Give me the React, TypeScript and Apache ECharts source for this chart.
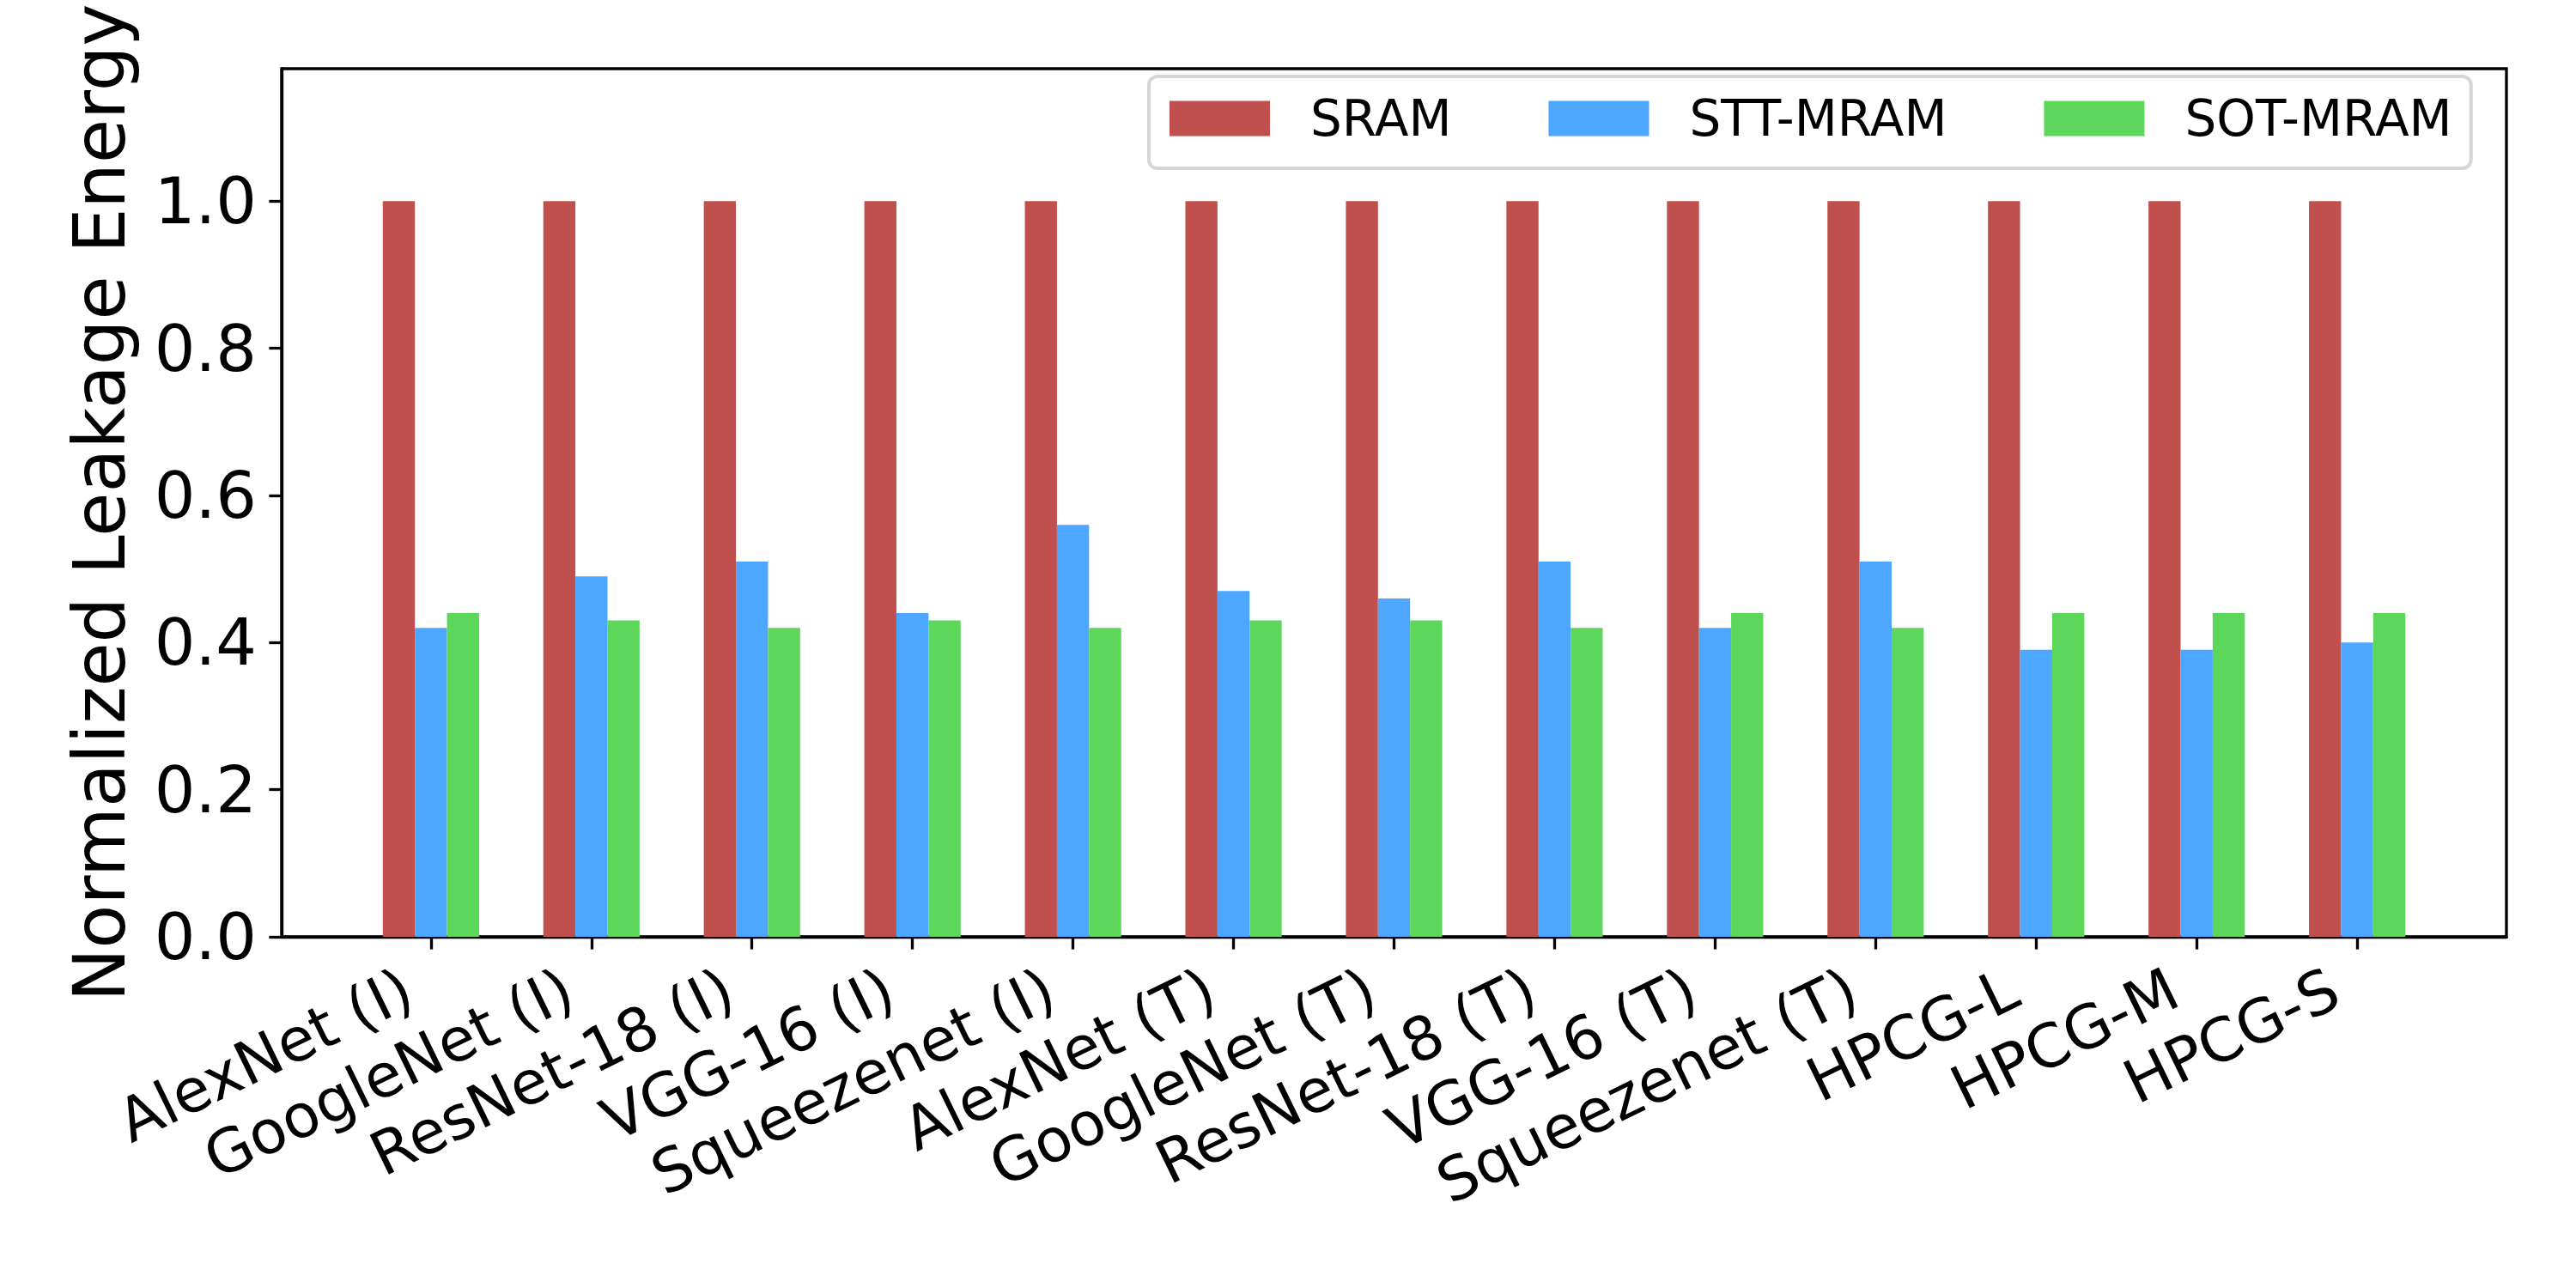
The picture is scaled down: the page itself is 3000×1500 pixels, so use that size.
import React, { useEffect, useRef } from 'react';
import * as echarts from 'echarts';

const categories = [
  'AlexNet (I)',
  'GoogleNet (I)',
  'ResNet-18 (I)',
  'VGG-16 (I)',
  'Squeezenet (I)',
  'AlexNet (T)',
  'GoogleNet (T)',
  'ResNet-18 (T)',
  'VGG-16 (T)',
  'Squeezenet (T)',
  'HPCG-L',
  'HPCG-M',
  'HPCG-S',
];
const seriesNames = ['SRAM', 'STT-MRAM', 'SOT-MRAM'];
const sramValues = [1, 1, 1, 1, 1, 1, 1, 1, 1, 1, 1, 1, 1];
const sttMramValues = [0.42, 0.49, 0.51, 0.44, 0.56, 0.47, 0.46, 0.51, 0.42, 0.51, 0.39, 0.39, 0.4];
const sotMramValues = [0.44, 0.43, 0.42, 0.43, 0.42, 0.43, 0.43, 0.42, 0.44, 0.42, 0.44, 0.44, 0.44];
const yTickValues = [0, 0.2, 0.4, 0.6, 0.8, 1.0];
const yMax = 1.18;
const xMin = -0.93;
const xMax = 12.93;

const COLORS = ['#c0504d', '#4da6ff', '#5cd75c'];
const OFFSETS = [-0.2, 0, 0.2];
const BAR_W = 0.2;
const FONT = 'DejaVu Sans';
const LW = 3.33;

function makeRender(offset: number, color: string) {
  return (_params: any, api: any) => {
    const x = api.value(0);
    const y = api.value(1);
    const a = api.coord([x + offset - BAR_W / 2, y]);
    const b = api.coord([x + offset + BAR_W / 2, 0]);
    return {
      type: 'rect',
      shape: { x: a[0], y: a[1], width: b[0] - a[0], height: b[1] - a[1] },
      style: { fill: color },
    };
  };
}

export default function App() {
  const ref = useRef<HTMLDivElement>(null);
  useEffect(() => {
    document.body.style.margin = '0';
    document.body.style.overflow = 'hidden';
    if (!ref.current) return;
    const chart = echarts.init(ref.current, undefined, { renderer: 'svg' });
    const allValues = [sramValues, sttMramValues, sotMramValues];
    const catIdx = categories.map((_, i) => i);
    const option: any = {
      animation: false,
      backgroundColor: '#ffffff',
      textStyle: { fontFamily: FONT },
      grid: {
        left: 328,
        top: 80,
        width: 2591,
        height: 1011,
        show: true,
        borderColor: '#000',
        borderWidth: LW,
        backgroundColor: 'transparent',
        containLabel: false,
        outerBoundsMode: 'none',
      },
      legend: {
        left: 1338,
        top: 89,
        orient: 'horizontal',
        data: seriesNames.map((n) => ({ name: n, icon: 'rect' })),
        itemWidth: 117,
        itemHeight: 41,
        itemGap: 113,
        padding: [20, 22, 29, 24],
        borderColor: '#d6d6d6',
        borderWidth: 4,
        borderRadius: 10,
        backgroundColor: 'rgba(255,255,255,0.8)',
        textStyle: { fontSize: 58, color: '#000', fontFamily: FONT, padding: [0, 0, 0, 42] },
      },
      xAxis: {
        type: 'value',
        min: xMin,
        max: xMax,
        splitLine: { show: false },
        axisLine: { show: true, onZero: false, lineStyle: { color: '#000', width: LW } },
        axisTick: {
          show: true,
          customValues: catIdx,
          length: 14.6,
          lineStyle: { color: '#000', width: LW },
        },
        axisLabel: {
          customValues: catIdx,
          formatter: (v: number) => categories[Math.round(v)] ?? '',
          rotate: 26,
          fontSize: 70,
          fontFamily: FONT,
          color: '#000',
          margin: 44,
          padding: [0, 29, 0, 0],
        },
      },
      yAxis: {
        type: 'value',
        min: 0,
        max: yMax,
        name: 'Normalized Leakage Energy',
        nameLocation: 'middle',
        nameGap: 170,
        nameTextStyle: { fontSize: 83, color: '#000', fontFamily: FONT },
        splitLine: { show: false },
        axisLine: { show: true, onZero: false, lineStyle: { color: '#000', width: LW } },
        axisTick: {
          show: true,
          customValues: yTickValues,
          length: 14.6,
          lineStyle: { color: '#000', width: LW },
        },
        axisLabel: {
          customValues: yTickValues,
          formatter: (v: number) => v.toFixed(1),
          fontSize: 75,
          fontFamily: FONT,
          color: '#000',
          margin: 29,
        },
      },
      series: seriesNames.map((name, s) => ({
        name,
        type: 'custom',
        itemStyle: { color: COLORS[s] },
        encode: { x: 0, y: 1 },
        data: allValues[s].map((v, i) => [i, v]),
        renderItem: makeRender(OFFSETS[s], COLORS[s]),
      })),
    };
    chart.setOption(option);
    return () => chart.dispose();
  }, []);
  return <div ref={ref} style={{ width: 3000, height: 1500 }} />;
}
